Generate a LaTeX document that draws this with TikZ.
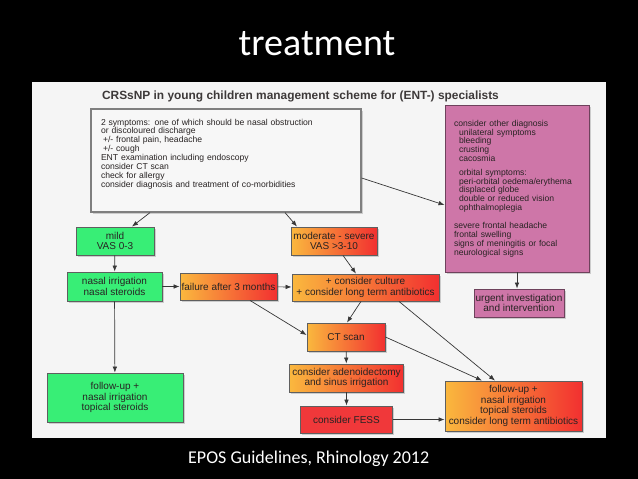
\documentclass[tikz,border=0pt]{standalone}
\usepackage{fontspec}
\setmainfont{Liberation Sans}
\newfontfamily\slidefont{Carlito}
\usepackage{xcolor}
\usetikzlibrary{arrows.meta,positioning,shadows}

\definecolor{panelgray}{RGB}{245,245,245}
\definecolor{boxgreen}{RGB}{56,238,118}
\definecolor{warmorange}{RGB}{250,184,62}
\definecolor{warmred}{RGB}{242,48,48}
\definecolor{fessred}{RGB}{240,56,58}
\definecolor{boxpink}{RGB}{206,118,168}
\definecolor{pinkedge}{RGB}{110,66,92}
\definecolor{edgegray}{RGB}{95,95,95}
\definecolor{inkgray}{RGB}{40,35,35}
\definecolor{arrowgray}{RGB}{55,55,55}

\begin{document}
\begin{tikzpicture}[
x=1pt, y=-1pt,
box/.style={draw=edgegray, line width=0.9pt, align=center, inner sep=0.5pt, text=inkgray, font=\fontsize{10}{10.5}\selectfont, drop shadow={shadow xshift=1.6pt, shadow yshift=-1.6pt, opacity=0.35}},
greenbox/.style={box, fill=boxgreen},
warmbox/.style={box, left color=warmorange, right color=warmred},
redbox/.style={box, fill=fessred},
pinkbox/.style={box, fill=boxpink, draw=pinkedge},
textbox/.style={box, align=left, font=\fontsize{8.6}{8.9}\selectfont},
arrow/.style={-{Latex[length=6pt,width=4.6pt]}, arrowgray, line width=0.7pt}
]
\useasboundingbox (0,0) rectangle (638,479);
\fill[black] (0,0) rectangle (638,479);
\fill[panelgray] (32,82) rectangle (606,438);

\node[font=\slidefont\fontsize{38}{40}\selectfont, text=white, anchor=base, inner sep=0pt] (title) at (317,55) {treatment};
\node[font=\slidefont\fontsize{18}{20}\selectfont, text=white, anchor=base west, inner sep=0pt] (source) at (188,463) {EPOS Guidelines, Rhinology 2012};
\node[font=\bfseries\fontsize{11.9}{14}\selectfont, text=inkgray!90] (heading) at (300.5,96) {CRSsNP in young children management scheme for (ENT-) specialists};

\node[textbox, fill=white!97!black, draw=edgegray!80, line width=1.2pt, text width=250pt, inner xsep=10pt, inner ysep=8pt, minimum height=103pt] (main) at (226,160.5) {2 symptoms: one of which should be nasal obstruction\\ or discoloured discharge\\ \hspace*{2pt}+/- frontal pain, headache\\ \hspace*{2pt}+/- cough\\ ENT examination including endoscopy\\ consider CT scan\\ check for allergy\\ consider diagnosis and treatment of co-morbidities\\[6pt] \mbox{}};
\node[textbox, fill=boxpink, draw=pinkedge, text width=126pt, inner xsep=9pt, minimum height=167pt] (pink) at (517,188.5) {consider other diagnosis\\ \hspace*{5pt}unilateral symptoms\\ \hspace*{5pt}bleeding\\ \hspace*{5pt}crusting\\ \hspace*{5pt}cacosmia\\[4.5pt] \hspace*{5pt}orbital symptoms:\\ \hspace*{5pt}peri-orbital oedema/erythema\\ \hspace*{5pt}displaced globe\\ \hspace*{5pt}double or reduced vision\\ \hspace*{5pt}ophthalmoplegia\\[8.9pt] severe frontal headache\\ frontal swelling\\ signs of meningitis or focal\\ neurological signs};
\node[pinkbox, minimum width=90pt, minimum height=28pt, inner xsep=0pt] (urgent) at (519,303) {urgent investigation\\ and intervention};

\node[greenbox, minimum width=78pt, minimum height=28pt] (mild) at (115,241) {mild\\ VAS 0-3};
\node[warmbox, minimum width=86pt, minimum height=28pt] (moderate) at (334,241) {moderate - severe\\ VAS >3-10};
\node[greenbox, minimum width=95pt, minimum height=29pt] (nasal) at (114.5,286.5) {nasal irrigation\\ nasal steroids};
\node[warmbox, minimum width=97pt, minimum height=27pt] (failure) at (228.5,286.5) {failure after 3 months};
\node[warmbox, minimum width=147pt, minimum height=27pt] (culture) at (365.5,287.5) {+ consider culture\\ + consider long term antibiotics};
\node[warmbox, minimum width=78pt, minimum height=28pt] (CT) at (346,337) {CT scan};
\node[warmbox, minimum width=114pt, minimum height=28pt] (adeno) at (346.5,378) {consider adenoidectomy\\ and sinus irrigation};
\node[redbox, minimum width=92pt, minimum height=27pt] (FESS) at (346.5,419.5) {consider FESS};
\node[greenbox, minimum width=136pt, minimum height=49pt] (fuL) at (115,397.5) {follow-up +\\ nasal irrigation\\ topical steroids};
\node[warmbox, minimum width=137pt, minimum height=50pt] (fuR) at (513.5,406) {follow-up +\\ nasal irrigation\\ topical steroids\\ consider long term antibiotics};

\draw[arrow] ([xshift=-76pt]main.south) -- ([xshift=17pt]mild.north);
\draw[arrow] ([xshift=59pt]main.south) -- ([xshift=-37pt]moderate.north);
\draw[arrow] ([yshift=-17.5pt]main.east) -- ([yshift=-16.5pt]pink.west);
\draw[arrow] (pink.south) -- (pink.south |- urgent.north);
\draw[arrow] (mild) -- (nasal);
\draw[arrow] (nasal) -- (failure);
\draw[arrow] (failure) -- (culture);
\draw[arrow] ([xshift=9pt]moderate.south) -- ([xshift=-9.5pt]culture.north);
\draw[arrow] ([xshift=21.5pt]failure.south) -- ([yshift=2pt]CT.west);
\draw[arrow] ([xshift=-4.5pt]culture.south) -- ([xshift=1pt]CT.north);
\draw[arrow] ([xshift=33.5pt]culture.south) -- ([xshift=-18.5pt]fuR.north);
\draw[arrow] (CT.east) -- ([xshift=-31.5pt]fuR.north);
\draw[arrow] (CT) -- (adeno);
\draw[arrow] (adeno) -- (FESS);
\draw[arrow] (FESS) -- (FESS -| fuR.west);
\draw[arrow] (nasal) -- (fuL);
\end{tikzpicture}
\end{document}
